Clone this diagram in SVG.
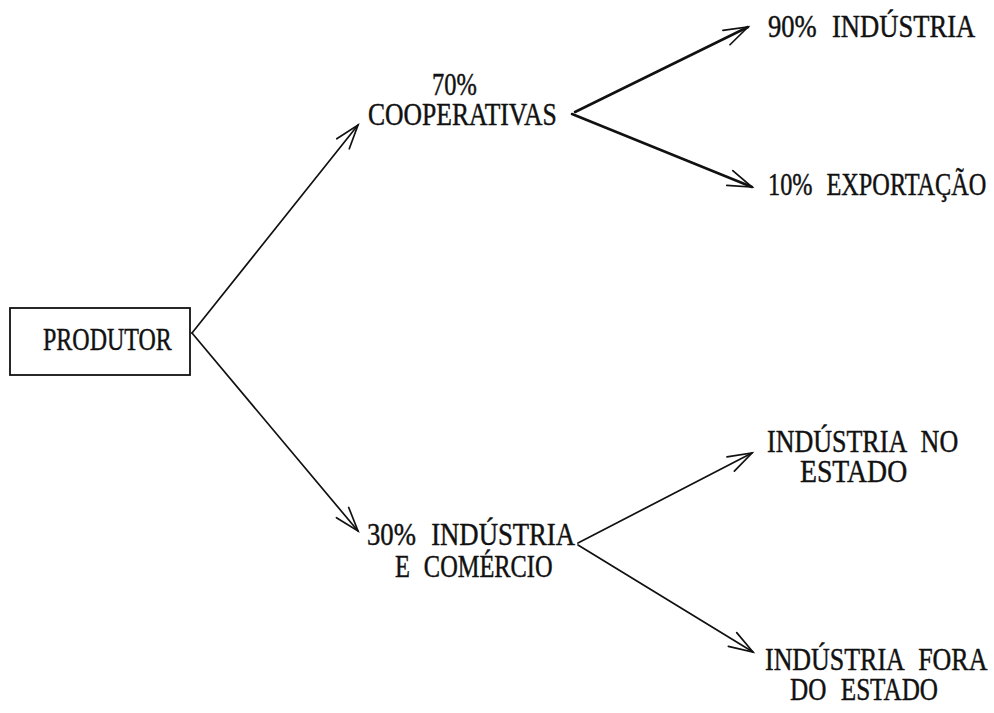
<svg xmlns="http://www.w3.org/2000/svg" width="994" height="713" viewBox="0 0 994 713">
  <style>
    .lbl { font-family: "Liberation Serif", "Times New Roman", serif; font-size: 31px; word-spacing: 10px; fill: #111; stroke: #111; stroke-width: 0.45; }
    .box { fill: #fff; stroke: #111; stroke-width: 1.8; }
    .edge { fill: none; stroke: #111; stroke-width: 1.7; stroke-linecap: round; }
    .edge.heavy { stroke-width: 2.6; }
    .head { fill: none; stroke: #111; stroke-width: 1.7; stroke-linecap: round; stroke-linejoin: miter; }
  </style>
  <defs>
    <marker id="arrow" markerUnits="userSpaceOnUse" markerWidth="30" markerHeight="30" refX="0" refY="0" viewBox="-26 -13 30 26" orient="auto" overflow="visible">
      <path class="head" d="M-24,-8 L0,0 L-24,8"/>
    </marker>
  </defs>
  <rect width="994" height="713" fill="#fff"/>

  <!-- connectors -->
  <g id="connectors">
    <line class="edge" x1="192" y1="333" x2="358" y2="125" marker-end="url(#arrow)"/>
    <line class="edge" x1="192" y1="333" x2="358" y2="531" marker-end="url(#arrow)"/>
    <line class="edge heavy" x1="575" y1="112" x2="748" y2="27" marker-end="url(#arrow)"/>
    <line class="edge heavy" x1="572" y1="114" x2="752" y2="187" marker-end="url(#arrow)"/>
    <line class="edge" x1="578" y1="543" x2="752" y2="453" marker-end="url(#arrow)"/>
    <line class="edge" x1="578" y1="545" x2="753" y2="652" marker-end="url(#arrow)"/>
  </g>

  <!-- nodes: labels are set condensed (scale 0.8) to a typewriter pitch -->
  <g id="produtor">
    <rect class="box" x="10" y="308" width="180" height="67"/>
    <text class="lbl" transform="translate(43,350) scale(0.8,1)" textLength="161" lengthAdjust="spacingAndGlyphs">PRODUTOR</text>
  </g>
  <g id="cooperativas">
    <text class="lbl" transform="translate(432,95) scale(0.8,1)" textLength="56" lengthAdjust="spacingAndGlyphs">70%</text>
    <text class="lbl" transform="translate(368,125) scale(0.8,1)" textLength="236" lengthAdjust="spacingAndGlyphs">COOPERATIVAS</text>
  </g>
  <g id="industria-90">
    <text class="lbl" transform="translate(768,37) scale(0.8,1)" textLength="259" lengthAdjust="spacingAndGlyphs">90% INDÚSTRIA</text>
  </g>
  <g id="exportacao">
    <text class="lbl" transform="translate(768,195) scale(0.8,1)" textLength="273" lengthAdjust="spacingAndGlyphs">10% EXPORTAÇÃO</text>
  </g>
  <g id="industria-comercio">
    <text class="lbl" transform="translate(367,545) scale(0.8,1)" textLength="260" lengthAdjust="spacingAndGlyphs">30% INDÚSTRIA</text>
    <text class="lbl" transform="translate(395,577) scale(0.8,1)" textLength="197" lengthAdjust="spacingAndGlyphs">E COMÉRCIO</text>
  </g>
  <g id="industria-no-estado">
    <text class="lbl" transform="translate(767,452) scale(0.8,1)" textLength="239" lengthAdjust="spacingAndGlyphs">INDÚSTRIA NO</text>
    <text class="lbl" transform="translate(800,482) scale(0.8,1)" textLength="134" lengthAdjust="spacingAndGlyphs">ESTADO</text>
  </g>
  <g id="industria-fora-estado">
    <text class="lbl" transform="translate(765,670) scale(0.8,1)" textLength="278" lengthAdjust="spacingAndGlyphs">INDÚSTRIA FORA</text>
    <text class="lbl" transform="translate(790,700) scale(0.8,1)" textLength="185" lengthAdjust="spacingAndGlyphs">DO ESTADO</text>
  </g>
</svg>
